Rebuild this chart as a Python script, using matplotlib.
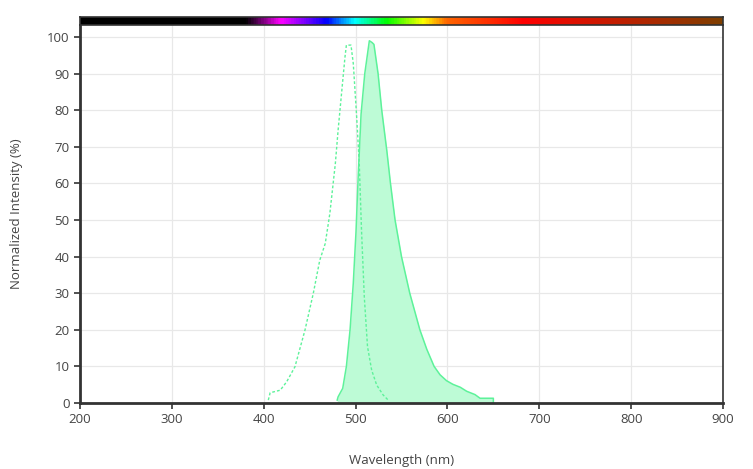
import matplotlib
matplotlib.use("Agg")
import matplotlib.pyplot as plt
from matplotlib.colors import LinearSegmentedColormap
import numpy as np

plt.rcParams['font.family'] = ['Open Sans', 'DejaVu Sans']

# excitation spectrum (dashed outline)
ex_wl = [405, 407, 418, 425, 434, 445, 454, 461, 467, 472, 478, 481, 486, 488.5,
         490, 495, 497.5, 501, 504, 506.5, 509.5, 513, 517.5, 523, 530, 535.5]
ex_val = [0.8, 2.8, 3.5, 5.8, 9.9, 20, 30, 39, 43.6, 51.8, 65.5, 74.6, 88, 94.6,
          97.8, 97.8, 92.8, 79, 65.5, 47, 29, 15.4, 9, 4.9, 2.2, 0.8]

# emission spectrum (filled)
em_wl = [480, 481, 486, 490, 494, 497.5, 500.5, 503, 506, 510, 515, 518, 520,
         524.5, 528.5, 534, 538, 543, 550, 559, 570, 577.5, 585.5, 592, 599,
         606, 614, 621, 630, 635.5, 650]
em_val = [0.8, 1.7, 4, 10, 20, 32.7, 47, 62.8, 79, 90, 99, 98.5, 98,
          90, 80, 69, 60, 50, 40, 30, 20, 14.7, 10, 7.7, 6.1,
          5.1, 4.3, 3.2, 2.3, 1.3, 1.3]

x_ticks = [200, 300, 400, 500, 600, 700, 800, 900]
y_ticks = [0, 10, 20, 30, 40, 50, 60, 70, 80, 90, 100]

# wavelength colour bar nodes
bar_nm = [200, 380, 418, 468, 499, 534, 574, 600, 683, 900]
bar_col = ['#000000', '#000000', '#ff00ff', '#0000ff', '#00ffff', '#00ff00',
           '#ffff00', '#ff6600', '#ff0000', '#7f3f00']

line_col = '#5df29a'
fill_col = '#bdfbd6'

fig = plt.figure(figsize=(7.53, 4.69), dpi=100)
ax = fig.add_axes([80 / 753, 66 / 469, 643 / 753, 378 / 469])
cax = fig.add_axes([80 / 753, 444 / 469, 643 / 753, 8 / 469])

ax.fill_between(em_wl + [650], em_val + [0], 0, color=fill_col, lw=0)
ax.plot(em_wl + [650], em_val + [0], color=line_col, lw=1.1)
ax.plot(ex_wl, ex_val, color=line_col, lw=1.0, ls=(0, (2, 1.5)))

ax.set_xlim(200, 900)
ax.set_ylim(0, 103.3)
ax.set_xticks(x_ticks)
ax.set_yticks(y_ticks)
ax.grid(True, color='#e8e8e8', lw=0.9)
ax.set_axisbelow(True)
for s in ['left', 'bottom']:
    ax.spines[s].set_color('#333333')
    ax.spines[s].set_linewidth(2)
ax.spines['right'].set_color('#333333')
ax.spines['right'].set_linewidth(1.2)
ax.spines['top'].set_visible(False)
ax.tick_params(axis='both', colors='#333333', labelcolor='#444444',
               labelsize=9.5, length=4, width=1.2)
ax.set_xlabel('Wavelength (nm)', fontsize=9.5, color='#444444', labelpad=20)
ax.set_ylabel('Normalized Intensity (%)', fontsize=9.5, color='#444444', labelpad=17)

# colour bar along the top
pos = [(v - 200) / 700 for v in bar_nm]
cmap = LinearSegmentedColormap.from_list('spec', list(zip(pos, bar_col)))
grad = np.linspace(0, 1, 700).reshape(1, -1)
cax.imshow(grad, aspect='auto', cmap=cmap, extent=[200, 900, 0, 1])
cax.set_xticks([])
cax.set_yticks([])
for s in cax.spines.values():
    s.set_color('#333333')
    s.set_linewidth(1.2)

fig.savefig('out.png', dpi=100)
